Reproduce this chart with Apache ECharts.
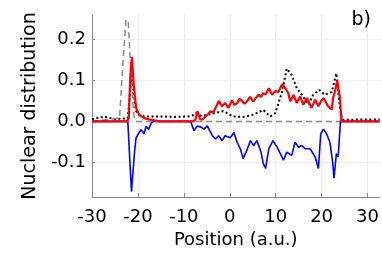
<!DOCTYPE html>
<html><head><meta charset="utf-8">
<script src="https://cdn.jsdelivr.net/npm/echarts@6/dist/echarts.min.js"></script>
<style>html,body{margin:0;padding:0;background:#fff}#c{width:382px;height:254px}</style>
</head><body><div id="c"></div>
<script>
const xTicks = [-30, -20, -10, 0, 10, 20, 30];
const yTicks = [-0.1, 0, 0.1, 0.2];

const redX = [-30,-22.4,-22.0,-21.65,-21.3,-20.9,-20.4,-19.7,-18.6,-17.6,-16.5,-15.5,-8.0,-7.5,-7.05,-6.5,-6.0,-5.3,-4.7,-4.2,-3.6,-3.1,-2.4,-1.7,-1.0,-0.3,0.5,1.0,1.6,2.1,2.65,3.2,3.7,4.4,5.1,5.7,6.3,6.8,7.3,7.8,8.5,9.2,9.9,10.6,11.4,12.1,12.7,13.2,13.9,14.6,15.3,16.0,16.8,17.3,17.8,18.6,19.3,19.9,20.4,21.0,21.4,22.2,22.5,23.0,23.4,24.0,24.3,32.6];
const redY = [0,0,0.008,0.113,0.157,0.089,0.033,0.016,0.008,0.005,0.003,0,0,0.004,0.025,0.006,0.004,0.012,0.018,0.025,0.022,0.033,0.05,0.037,0.045,0.033,0.052,0.04,0.045,0.055,0.05,0.043,0.048,0.06,0.048,0.058,0.065,0.06,0.069,0.066,0.081,0.065,0.074,0.072,0.091,0.081,0.07,0.049,0.065,0.045,0.061,0.041,0.057,0.045,0.033,0.053,0.037,0.05,0.057,0.045,0.037,0.029,0.057,0.078,0.1,0.057,0,0];

const blueX = [-30,-22.2,-21.8,-21.4,-21.1,-20.7,-20.4,-19.8,-19.3,-18.7,-18.2,-17.7,-17.1,-16.5,-8.5,-7.8,-7.05,-6.3,-5.6,-4.9,-3.8,-3.1,-2.4,-1.7,-1.0,0.1,0.9,1.6,2.3,2.9,3.7,4.5,5.2,5.9,6.8,7.3,7.8,8.5,9.4,10.3,11.0,11.7,12.4,13.5,14.2,15.0,15.7,16.4,17.5,18.6,19.3,19.8,20.4,21.1,21.8,22.4,22.7,23.2,23.6,24.1,32.6];
const blueY = [0,0,-0.088,-0.172,-0.128,-0.07,-0.04,-0.028,-0.02,-0.03,-0.012,-0.02,-0.004,0,0,-0.023,-0.011,-0.014,-0.019,-0.011,-0.035,-0.043,-0.035,-0.047,-0.035,-0.04,-0.027,-0.051,-0.067,-0.091,-0.071,-0.047,-0.059,-0.047,-0.075,-0.103,-0.115,-0.067,-0.047,-0.063,-0.079,-0.095,-0.075,-0.083,-0.051,-0.063,-0.059,-0.067,-0.067,-0.087,-0.115,-0.031,-0.019,-0.031,-0.051,-0.099,-0.139,-0.079,-0.087,0,0];

const dotX = [-30,-28.5,-27.3,-26.0,-25.1,-23.0,-22.2,-21.8,-21.4,-21.0,-20.4,-19.6,-18.6,-15,-12,-9,-8,-7.4,-6.8,-6.0,-5.0,-3.4,-1.4,0.7,3.0,5.0,6.2,7.3,8.0,8.85,9.9,11.4,12.4,13.5,14.6,15.7,17.1,18.2,19.5,20.7,22.2,23.2,24.0,24.5,32.6];
const dotY = [0.005,0.009,0.012,0.008,0.006,0.007,0.008,0.06,0.115,0.08,0.025,0.015,0.012,0.012,0.011,0.012,0.015,0.02,0.016,0.013,0.016,0.02,0.025,0.012,0.011,0.016,0.022,0.028,0.02,0.0125,0.02,0.072,0.129,0.113,0.081,0.065,0.041,0.065,0.077,0.065,0.072,0.117,0.033,0.004,0.005];

const dashX = [-30,-24.0,-23.3,-22.6,-22.1,-21.5,-20.9,-20.5,32.6];
const dashY = [0,0.008,0.137,0.249,0.241,0.113,0.016,0,0];

const zip = (xs, ys) => xs.map((x, i) => [x, ys[i]]);
const FONT = 'DejaVu Sans';

const chart = echarts.init(document.getElementById('c'), null, {renderer: 'canvas'});
chart.setOption({
  animation: false,
  grid: {left: 92, right: 0, top: 15, bottom: 54, containLabel: false},
  title: {text: 'b)', right: 6, top: 6, textStyle: {fontFamily: FONT, fontSize: 19, fontWeight: 'normal', color: '#000'}},
  xAxis: {
    type: 'value', min: -30, max: 32.6,
    name: 'Position (a.u.)', nameLocation: 'middle', nameGap: 33,
    nameTextStyle: {fontFamily: FONT, fontSize: 18, color: '#000'},
    axisLine: {show: true, onZero: false, lineStyle: {color: '#888', width: 1}},
    axisTick: {show: true, inside: true, length: 4, customValues: xTicks, lineStyle: {color: '#888'}},
    axisLabel: {customValues: xTicks, margin: 11, fontFamily: FONT, fontSize: 18, color: '#000'},
    splitLine: {show: true, lineStyle: {color: '#eeeeee', width: 1}}
  },
  yAxis: {
    type: 'value', min: -0.185, max: 0.26,
    name: 'Nuclear distribution', nameLocation: 'middle', nameGap: 48,
    nameTextStyle: {fontFamily: FONT, fontSize: 19, color: '#000'},
    axisLine: {show: true, onZero: false, lineStyle: {color: '#888', width: 1}},
    axisTick: {show: true, inside: true, length: 3, customValues: yTicks, lineStyle: {color: '#888'}},
    axisLabel: {customValues: yTicks, margin: 6, fontFamily: FONT, fontSize: 18, color: '#000',
      formatter: v => (Math.abs(v) < 1e-9 ? 0 : v).toFixed(1)},
    splitLine: {show: true, lineStyle: {color: '#eeeeee', width: 1}}
  },
  series: [
    {type: 'line', data: zip(dotX, dotY), symbol: 'none', z: 2,
      lineStyle: {color: '#000', width: 2, type: [2, 2.5]}},
    {type: 'line', data: zip(dashX, dashY), symbol: 'none', z: 3,
      lineStyle: {color: '#888', width: 1.5, type: [6, 4]}},
    {type: 'line', data: zip(blueX, blueY), symbol: 'none', z: 4,
      lineStyle: {color: '#0000ff', width: 1.6}},
    {type: 'line', data: zip(redX, redY), symbol: 'none', z: 5,
      lineStyle: {color: '#ff0000', width: 2.2}}
  ]
});
</script></body></html>
